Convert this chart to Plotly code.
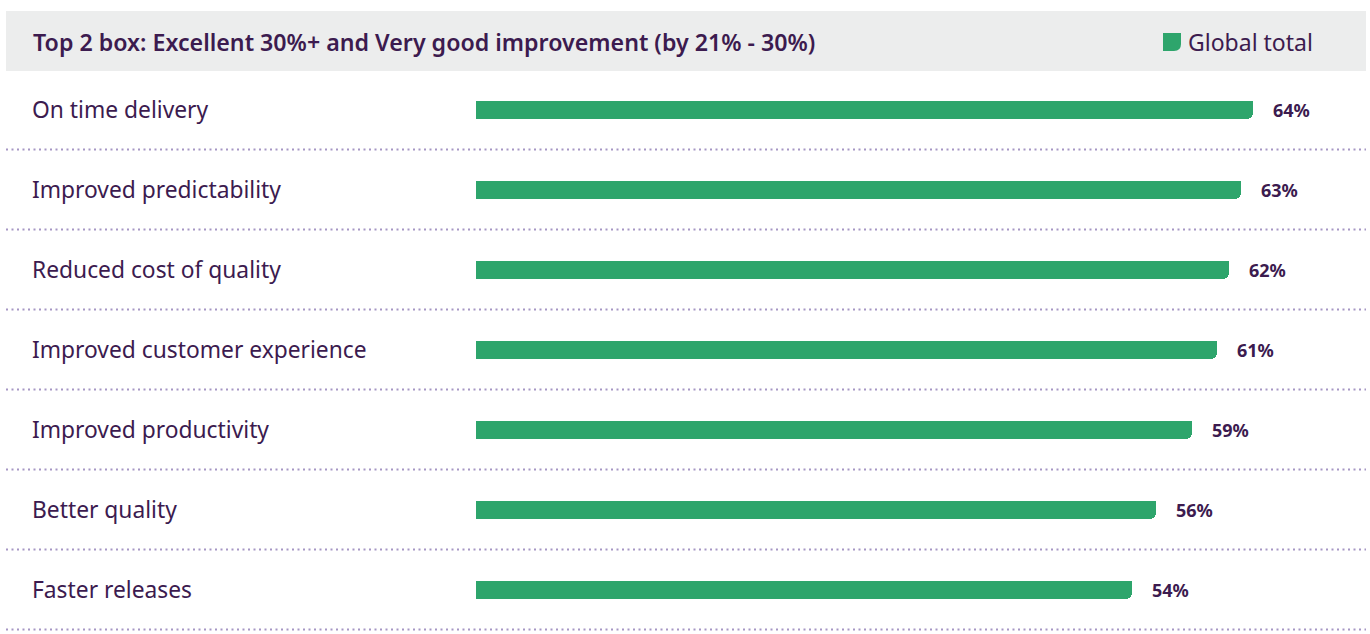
import plotly.graph_objects as go

categories = ["On time delivery", "Improved predictability", "Reduced cost of quality",
              "Improved customer experience", "Improved productivity", "Better quality",
              "Faster releases"]
values = [64, 63, 62, 61, 59, 56, 54]
title_text = "Top 2 box: Excellent 30%+ and Very good improvement (by 21% - 30%)"
legend_text = "Global total"

W, H = 1370, 634
TEXT = "#3c1b4f"
GREEN = "#2ea56c"
FONT = "Noto Sans"

ypos = list(range(len(categories)))
bar_w = 0.225

fig = go.Figure()
fig.add_trace(go.Bar(x=values, y=ypos, orientation="h", width=bar_w,
                     marker=dict(color=GREEN, line=dict(width=0), cornerradius=6),
                     hoverinfo="skip", showlegend=False))
# cover the top-right corner so only bottom-right is rounded
fig.add_trace(go.Bar(x=values, y=ypos, orientation="h", width=bar_w / 2,
                     offset=-bar_w / 2,
                     marker=dict(color=GREEN, line=dict(width=0)),
                     hoverinfo="skip", showlegend=False))

shapes = []
# header box
shapes.append(dict(type="rect", xref="paper", yref="paper",
                   x0=6 / W, x1=1366 / W, y0=1 - 71 / H, y1=1 - 11 / H,
                   fillcolor="#eceded", line=dict(width=0), layer="below"))
# legend icon (bottom-right rounded)
shapes.append(dict(type="path", xref="paper", yref="paper",
                   xsizemode="pixel", ysizemode="pixel",
                   xanchor=1163 / W, yanchor=1 - 51 / H,
                   path="M 0 0 L 0 18 L 18 18 L 18 7 Q 18 0 11 0 Z",
                   fillcolor=GREEN, line=dict(width=0)))
# dotted separators
for i in ypos:
    shapes.append(dict(type="line", xref="paper", yref="y",
                       x0=6 / W, x1=1366 / W, y0=i + 0.5, y1=i + 0.5,
                       line=dict(color="#a596c4", width=2, dash="2px,3.5px")))

annotations = []
annotations.append(dict(text=title_text, xref="paper", yref="paper",
                        x=31 / W, y=1 - 42 / H, xanchor="left", yanchor="middle",
                        showarrow=False,
                        font=dict(family=FONT, size=23.2, color=TEXT, weight=600)))
annotations.append(dict(text=legend_text, xref="paper", yref="paper",
                        x=1186 / W, y=1 - 42 / H, xanchor="left", yanchor="middle",
                        showarrow=False, font=dict(family=FONT, size=23, color=TEXT)))
for i, (c, v) in enumerate(zip(categories, values)):
    annotations.append(dict(text=c, xref="paper", yref="y", x=30 / W, y=i,
                            xanchor="left", yanchor="middle", showarrow=False,
                            font=dict(family=FONT, size=22.8, color=TEXT)))
    annotations.append(dict(text=f"<b>{v}%</b>", xref="x", yref="y", x=v, y=i,
                            xanchor="left", yanchor="middle", xshift=18, showarrow=False,
                            font=dict(family=FONT, size=18, color=TEXT)))

px_per_unit = (1253 - 476) / 64
fig.update_layout(
    width=W, height=H, margin=dict(l=0, r=0, t=0, b=0),
    paper_bgcolor="white", plot_bgcolor="white",
    barmode="overlay", bargap=0,
    xaxis=dict(domain=[476 / W, 1], range=[0, (W - 476) / px_per_unit],
               visible=False, fixedrange=True),
    yaxis=dict(range=[(H - 109.5) / 80, -109.5 / 80], visible=False, fixedrange=True),
    shapes=shapes, annotations=annotations,
)

fig.write_html("out.html", config={"displayModeBar": False},
               post_script="document.body.style.margin='0';document.body.style.overflow='hidden';")
